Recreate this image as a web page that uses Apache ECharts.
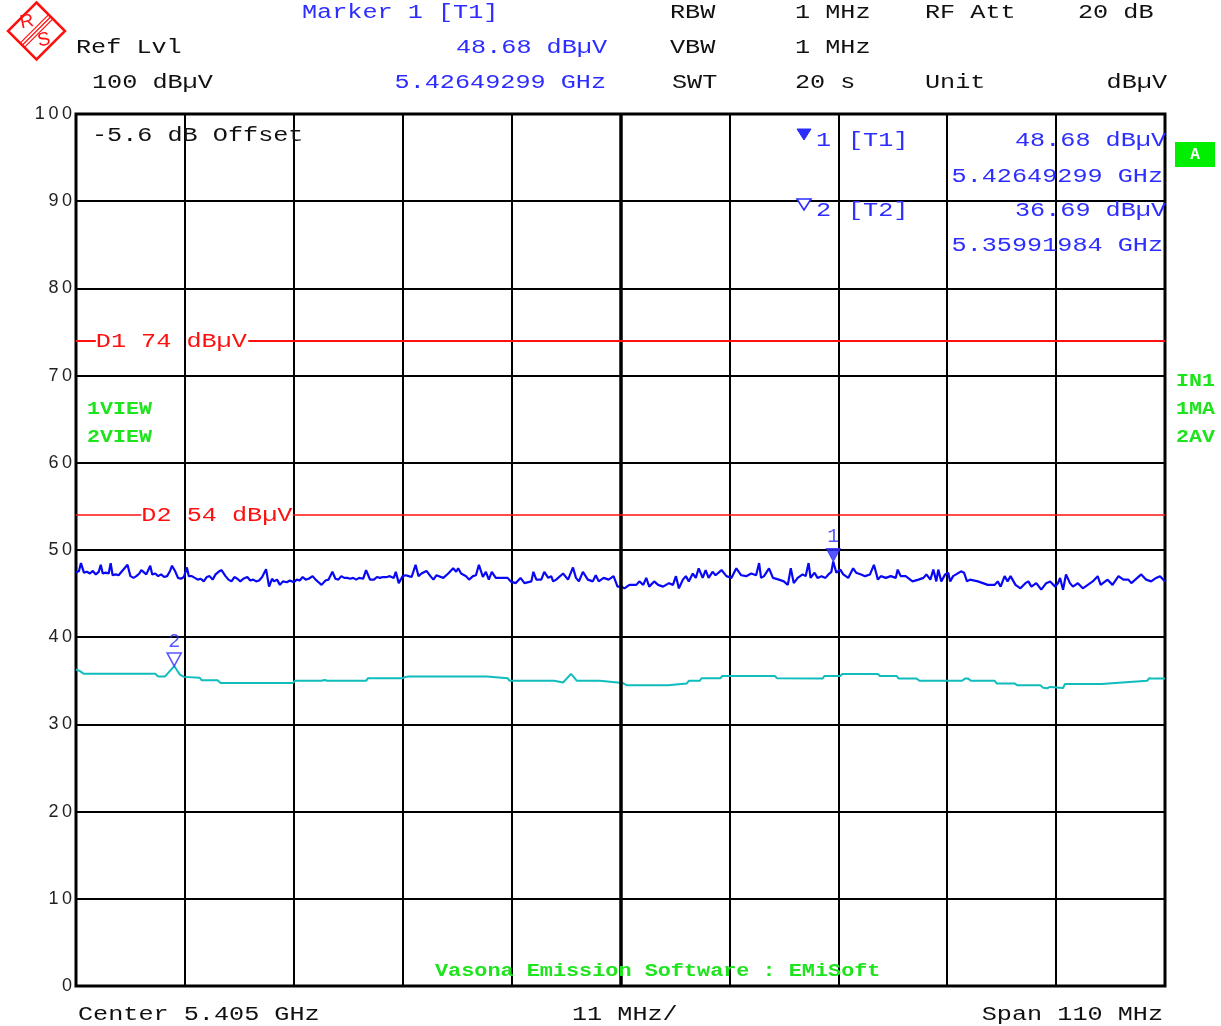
<!DOCTYPE html>
<html>
<head>
<meta charset="utf-8">
<title>Spectrum 5.350 – 5.460 GHz</title>
<script src="https://cdn.jsdelivr.net/npm/echarts@6/dist/echarts.min.js"></script>
<style>
  html, body { margin: 0; padding: 0; background: #ffffff; }
  #chart { width: 1221px; height: 1026px; }
</style>
</head>
<body>
<div id="chart"></div>
<script>
// Sweep settings (MHz / dBµV)
const START_MHZ = 5350;
const SPAN_MHZ = 110;
const DIV_MHZ = 11;
const REF_LEVEL = 100;
const LEVEL_STEP = 10;
const LEVEL_OFFSET_DB = -5.6;

// Trace 1 (max peak): frequency in MHz above START_MHZ, level in dBµV
const maxPeakFreq = [
  0, 0.3, 0.5, 0.8, 1.1, 1.4, 1.7, 2.0, 2.3, 2.5,
  2.7, 3.0, 3.3, 3.5, 3.7, 4.0, 4.3, 4.6, 4.8, 5.2,
  5.5, 5.8, 6.1, 6.4, 6.6, 6.8, 7.1, 7.5, 7.7, 8.0,
  8.3, 8.6, 8.9, 9.2, 9.5, 9.7, 10.0, 10.3, 10.6, 10.9,
  11.2, 11.4, 11.7, 12.0, 12.3, 12.6, 12.9, 13.2, 13.5, 13.8,
  14.1, 14.4, 14.7, 15.1, 15.4, 15.7, 16.0, 16.3, 16.6, 16.9,
  17.3, 17.6, 17.9, 18.2, 18.5, 18.8, 19.2, 19.5, 19.8, 20.0,
  20.3, 20.6, 20.9, 21.3, 21.6, 22.0, 22.3, 22.6, 22.9, 23.2,
  23.5, 23.9, 24.2, 24.5, 24.8, 25.2, 25.5, 25.9, 26.2, 26.5,
  26.8, 27.1, 27.4, 27.7, 28.0, 28.3, 28.6, 29.0, 29.3, 29.7,
  30.1, 30.4, 30.7, 31.0, 31.4, 31.7, 32.1, 32.3, 32.6, 33.0,
  33.3, 33.6, 33.9, 34.3, 34.6, 34.9, 35.4, 35.8, 36.1, 36.4,
  37.1, 37.6, 38.1, 38.4, 38.6, 38.9, 39.4, 39.7, 40.1, 40.4,
  40.7, 41.1, 41.4, 41.7, 42.0, 42.4, 43.1, 43.6, 43.9, 44.4,
  44.9, 45.3, 46.0, 46.2, 46.5, 47.0, 47.3, 47.7, 48.0, 48.2,
  48.5, 49.2, 49.7, 50.2, 50.5, 50.8, 51.2, 51.7, 52.2, 52.5,
  52.8, 53.3, 53.8, 54.3, 54.7, 55.1, 55.4, 55.9, 56.6, 56.9,
  57.3, 57.6, 57.9, 58.4, 58.8, 59.3, 59.9, 60.3, 60.6, 60.9,
  61.3, 61.6, 61.9, 62.3, 62.6, 62.9, 63.3, 63.6, 63.9, 64.3,
  64.6, 65.2, 65.7, 66.2, 66.7, 67.2, 67.7, 68.2, 68.7, 69.0,
  69.2, 69.5, 70.0, 70.4, 71.0, 71.5, 71.9, 72.2, 72.5, 72.9,
  73.4, 73.7, 74.0, 74.2, 74.6, 74.9, 75.3, 75.7, 76.0, 76.3,
  76.49, 76.8, 77.2, 77.5, 78.0, 78.5, 78.8, 79.3, 79.7, 80.2,
  80.6, 81.0, 81.3, 81.8, 82.3, 82.8, 83.0, 83.3, 83.8, 84.5,
  85.1, 85.6, 85.9, 86.3, 86.6, 86.9, 87.1, 87.4, 87.8, 88.1,
  88.3, 88.6, 88.9, 89.4, 89.7, 90.0, 90.3, 91.1, 91.6, 92.1,
  92.8, 93.1, 93.4, 93.8, 94.1, 94.4, 94.9, 95.4, 95.9, 96.2,
  96.5, 97.0, 97.5, 98.0, 98.4, 98.9, 99.2, 99.4, 99.7, 100.0,
  100.4, 100.7, 101.2, 101.7, 102.2, 102.7, 103.2, 103.5, 104.2, 104.7,
  105.3, 105.8, 106.3, 106.6, 107.0, 107.6, 108.1, 108.6, 109.1, 109.5, 110
];
const maxPeakLevel = [
  47.4, 47.6, 48.5, 47.4, 47.5, 47.3, 47.6, 47.2, 47.5, 48.3,
  47.3, 47.4, 47.3, 48.5, 47.1, 47.2, 47.1, 47.5, 47.7, 48.3,
  47.0, 46.8, 47.0, 47.3, 47.7, 47.5, 47.2, 48.2, 47.2, 47.3,
  47.0, 47.2, 46.9, 47.0, 47.6, 48.2, 47.6, 46.8, 46.7, 46.9,
  48.0, 47.0, 47.0, 46.8, 46.6, 46.7, 46.4, 46.9, 47.0, 46.6,
  47.2, 47.5, 47.7, 47.0, 46.6, 46.4, 46.9, 46.7, 46.4, 46.7,
  46.9, 46.5, 46.6, 46.4, 46.5, 46.9, 47.8, 45.8, 46.7, 46.4,
  46.6, 46.0, 46.4, 46.3, 46.5, 46.3, 46.6, 46.5, 46.9, 46.6,
  46.7, 47.0, 46.6, 46.3, 46.0, 46.5, 46.6, 47.5, 46.7, 46.6,
  47.0, 46.8, 46.8, 46.7, 46.8, 46.6, 46.8, 46.7, 47.7, 46.6,
  46.6, 46.9, 46.8, 46.9, 46.9, 47.0, 46.8, 47.5, 46.2, 47.0,
  47.1, 47.0, 46.9, 48.3, 47.0, 47.3, 47.6, 47.0, 46.6, 47.1,
  46.8, 47.3, 47.9, 47.5, 47.9, 47.3, 47.0, 46.6, 47.0, 47.1,
  48.3, 46.9, 47.5, 46.6, 47.5, 46.8, 46.8, 46.8, 46.4, 46.2,
  46.8, 46.2, 46.4, 47.5, 46.6, 46.6, 47.5, 46.8, 47.0, 46.4,
  46.6, 47.3, 46.6, 48.0, 46.8, 46.4, 47.5, 46.6, 46.4, 47.1,
  46.4, 46.8, 46.6, 47.0, 45.8, 45.8, 45.6, 46.0, 46.0, 46.4,
  46.0, 46.8, 45.8, 46.4, 46.0, 45.8, 46.2, 46.0, 47.0, 45.6,
  46.6, 47.0, 46.4, 47.3, 46.8, 47.9, 46.8, 47.7, 46.8, 47.5,
  47.1, 47.7, 47.0, 46.8, 47.9, 47.1, 47.0, 47.3, 47.1, 48.5,
  46.8, 47.0, 47.9, 46.8, 46.6, 46.4, 46.0, 47.9, 46.2, 46.8,
  47.2, 47.0, 48.5, 46.8, 47.4, 46.8, 47.0, 46.8, 47.2, 47.5,
  48.68, 47.4, 47.75, 47.2, 46.8, 47.9, 47.4, 47.2, 47.0, 47.2,
  48.3, 46.6, 47.0, 46.8, 47.0, 46.8, 47.75, 47.0, 47.0, 46.4,
  46.6, 46.8, 47.2, 46.6, 47.75, 46.4, 47.75, 46.4, 47.2, 47.4,
  46.4, 47.0, 47.2, 47.55, 47.4, 46.4, 46.6, 46.4, 46.2, 46.0,
  46.0, 46.4, 45.8, 47.0, 46.4, 47.0, 46.0, 45.6, 46.2, 46.4,
  45.8, 46.2, 45.45, 46.2, 46.4, 45.8, 46.2, 46.8, 45.45, 47.2,
  46.2, 45.8, 46.2, 45.6, 46.0, 46.4, 47.0, 46.0, 46.6, 46.0,
  47.0, 46.6, 46.6, 46.2, 46.6, 47.2, 46.6, 46.4, 46.8, 47.0, 46.4
];

// Trace 2 (average): frequency in MHz above START_MHZ, level in dBµV
const averageFreq = [
  0, 0.4, 0.8, 8.0, 8.3, 9.0, 9.92, 10.5, 10.9, 11.1,
  12.5, 12.7, 14.3, 14.6, 21.9, 22.1, 24.8, 25.1, 25.4, 29.3,
  29.5, 33.0, 33.3, 33.6, 41.5, 41.7, 43.6, 43.8, 48.3, 48.5,
  49.2, 50.0, 50.6, 52.9, 53.1, 55.2, 55.6, 55.8, 56.0, 59.8,
  60.0, 61.7, 61.9, 63.0, 63.2, 65.1, 65.3, 70.6, 70.8, 75.4,
  75.6, 77.2, 77.4, 81.0, 81.2, 82.9, 83.1, 84.9, 85.2, 89.5,
  89.8, 90.1, 90.4, 92.8, 93.0, 94.8, 95.1, 97.4, 97.7, 97.9,
  98.1, 98.4, 98.6, 99.7, 99.9, 103.6, 103.8, 105.7, 105.9, 108.2,
  108.4, 108.6, 108.8, 110
];
const averageLevel = [
  36.3, 36.1, 35.8, 35.8, 35.5, 35.5, 36.69, 35.7, 35.45, 35.35,
  35.35, 35.05, 35.05, 34.75, 34.75, 35.0, 35.0, 35.1, 35.0, 35.0,
  35.3, 35.3, 35.45, 35.5, 35.5, 35.3, 35.3, 35.0, 35.0, 34.8,
  34.8, 35.8, 35.0, 35.0, 34.8, 34.75, 34.5, 34.65, 34.48, 34.48,
  34.7, 34.7, 35.0, 35.0, 35.3, 35.3, 35.55, 35.55, 35.3, 35.25,
  35.55, 35.55, 35.78, 35.78, 35.55, 35.55, 35.25, 35.25, 35.0, 35.0,
  35.25, 35.25, 35.0, 35.0, 34.7, 34.7, 34.48, 34.48, 34.2, 34.35,
  34.15, 34.3, 34.17, 34.17, 34.63, 34.63, 34.8, 34.8, 35.0, 35.0,
  35.3, 35.1, 35.25, 35.25
];

// Markers
const markerNames = ['1', '2'];
const markerTraces = ['T1', 'T2'];
const markerFreqGHz = [5.42649299, 5.35991984];
const markerLevel = [48.68, 36.69];

// Display lines and the stretch (MHz above start) left open for each label
const displayLineNames = ['D1', 'D2'];
const displayLineLevel = [74, 54];
const displayLineGap = [[2.0, 17.4], [6.6, 21.9]];

// Instrument settings shown in the header
const rbwText = '1 MHz';
const vbwText = '1 MHz';
const sweepText = '20 s';
const attText = '20 dB';
const unitText = 'dBµV';

const BLUE = '#0808f4';
const MARK_BLUE = '#2d2dff';
const CYAN = '#10bcbc';
const RED = '#ff1010';
const GREEN = '#1ee41e';
const INK = '#111111';
const MONO = "'Liberation Mono', 'DejaVu Sans Mono', monospace";
const TY = 1; // baseline nudge for stretched monospace text

const chart = echarts.init(document.getElementById('chart'), null, { renderer: 'canvas' });

const maxPeak = maxPeakFreq.map((f, i) => [f, maxPeakLevel[i]]);
const average = averageFreq.map((f, i) => [f, averageLevel[i]]);
const markerPoints = markerFreqGHz.map((g, i) => ({
  value: [g * 1000 - START_MHZ, markerLevel[i]],
  name: markerNames[i],
  itemStyle: i === 0
    ? { color: MARK_BLUE, borderColor: MARK_BLUE, borderWidth: 1 }
    : { color: '#ffffff', borderColor: MARK_BLUE, borderWidth: 1.6 }
}));

const displaySegments = [];
displayLineLevel.forEach((lv, i) => {
  const w = i === 0 ? 2 : 1.5;
  displaySegments.push([
    { coord: [0, lv], lineStyle: { color: RED, width: w, type: 'solid' } },
    { coord: [displayLineGap[i][0], lv] }
  ]);
  displaySegments.push([
    { coord: [displayLineGap[i][1], lv], lineStyle: { color: RED, width: w, type: 'solid' } },
    { coord: [SPAN_MHZ, lv] }
  ]);
});

chart.setOption({
  animation: false,
  backgroundColor: '#ffffff',
  grid: {
    left: 76, top: 114, width: 1089, height: 872,
    show: true, borderColor: '#000000', borderWidth: 3, backgroundColor: 'transparent'
  },
  xAxis: {
    type: 'value', min: 0, max: SPAN_MHZ, interval: DIV_MHZ,
    axisLine: { show: false }, axisTick: { show: false }, axisLabel: { show: false },
    splitLine: { show: true, lineStyle: { color: '#000000', width: 2 } }
  },
  yAxis: {
    type: 'value', min: 0, max: REF_LEVEL, interval: LEVEL_STEP,
    axisLine: { show: false }, axisTick: { show: false },
    axisLabel: {
      color: '#222222', fontFamily: "'Liberation Sans', Arial, sans-serif", fontSize: 18, margin: 4,
      formatter: v => String(v).split('').join('\u2009')
    },
    splitLine: { show: true, lineStyle: { color: '#000000', width: 2 } }
  },
  series: [
    {
      name: '2AV', type: 'line', data: average, showSymbol: false, silent: true,
      lineStyle: { color: CYAN, width: 2 }, z: 3,
      markLine: {
        silent: true, symbol: ['none', 'none'], label: { show: false },
        data: [{ xAxis: SPAN_MHZ / 2, lineStyle: { color: '#000000', width: 3.5, type: 'solid' } }]
      }
    },
    {
      name: '1MA', type: 'line', data: maxPeak, showSymbol: false, silent: true,
      lineStyle: { color: BLUE, width: 2.2 }, z: 4,
      markLine: {
        silent: true, symbol: ['none', 'none'], label: { show: false },
        data: displaySegments
      }
    },
    {
      name: 'markers', type: 'scatter', data: markerPoints, silent: true, z: 6,
      symbol: 'path://M0,0L20,0L10,18Z', symbolSize: [14, 13], symbolOffset: [0, -6.5],
      label: {
        show: true, position: 'top', distance: 1,
        formatter: p => p.name, color: MARK_BLUE,
        fontFamily: MONO, fontSize: 20
      }
    }
  ]
});

// Text helper: monospace text stretched to the instrument's character pitch
function txt(text, x, y, color, opt) {
  opt = opt || {};
  const size = opt.size || 20;
  const pitch = opt.pitch || 15.1;
  return {
    type: 'text', x: x, y: y + TY, scaleX: pitch / (size * 0.6), z: 50, silent: true,
    style: {
      text: text, fill: color,
      font: (opt.bold ? 'bold ' : '') + size + 'px ' + MONO,
      textAlign: opt.align || 'left', textVerticalAlign: 'middle'
    }
  };
}

const centerGHz = (START_MHZ + SPAN_MHZ / 2) / 1000;
const els = [];

// R&S logo
const lc = [36.5, 31], hd = 28.5;
els.push({
  type: 'polygon', silent: true, z: 50,
  shape: { points: [[lc[0], lc[1] - hd], [lc[0] + hd, lc[1]], [lc[0], lc[1] + hd], [lc[0] - hd, lc[1]]] },
  style: { fill: 'none', stroke: RED, lineWidth: 2.5 }
});
[-3, 0, 3].forEach(d => {
  const o = d * 0.7071;
  els.push({
    type: 'line', silent: true, z: 50,
    shape: { x1: lc[0] - hd / 2 + o, y1: lc[1] + hd / 2 + o, x2: lc[0] + hd / 2 + o, y2: lc[1] - hd / 2 + o },
    style: { stroke: RED, lineWidth: 1.3 }
  });
});
els.push({ type: 'text', x: 27, y: 22, z: 50, silent: true, rotation: 0.2,
  style: { text: 'R', fill: RED, font: "19px 'Liberation Sans', sans-serif", textAlign: 'center', textVerticalAlign: 'middle' } });
els.push({ type: 'text', x: 44, y: 40, z: 50, silent: true, rotation: 0.2,
  style: { text: 'S', fill: RED, font: "19px 'Liberation Sans', sans-serif", textAlign: 'center', textVerticalAlign: 'middle' } });

// Header
els.push(txt('Marker ' + markerNames[0] + ' [' + markerTraces[0] + ']', 302, 12, MARK_BLUE));
els.push(txt('RBW', 670, 12, INK));
els.push(txt(rbwText, 795, 12, INK));
els.push(txt('RF Att', 925, 12, INK));
els.push(txt(attText, 1078, 12, INK));
els.push(txt('Ref Lvl', 76, 47, INK));
els.push(txt(markerLevel[0].toFixed(2) + ' ' + unitText, 607, 47, MARK_BLUE, { align: 'right' }));
els.push(txt('VBW', 670, 47, INK));
els.push(txt(vbwText, 795, 47, INK));
els.push(txt(REF_LEVEL + ' ' + unitText, 92, 82, INK));
els.push(txt(markerFreqGHz[0].toFixed(8) + ' GHz', 606, 82, MARK_BLUE, { align: 'right' }));
els.push(txt('SWT', 672, 82, INK));
els.push(txt(sweepText, 795, 82, INK));
els.push(txt('Unit', 925, 82, INK));
els.push(txt(unitText, 1167, 82, INK, { align: 'right' }));

// Offset note
els.push(txt(LEVEL_OFFSET_DB.toFixed(1) + ' dB Offset', 92, 135, INK));

// Marker table
const rowY = [[140, 176], [210, 245]];
markerNames.forEach((m, i) => {
  const y0 = rowY[i][0];
  els.push({
    type: 'polygon', silent: true, z: 50,
    shape: { points: [[797, y0 - 11], [811, y0 - 11], [804, y0]] },
    style: i === 0 ? { fill: MARK_BLUE, stroke: MARK_BLUE, lineWidth: 1 }
                   : { fill: '#ffffff', stroke: MARK_BLUE, lineWidth: 1.6 }
  });
  els.push(txt(m, 816, y0, MARK_BLUE));
  els.push(txt('[' + markerTraces[i] + ']', 848, y0, MARK_BLUE));
  els.push(txt(markerLevel[i].toFixed(2) + ' ' + unitText, 1166, y0, MARK_BLUE, { align: 'right' }));
  els.push(txt(markerFreqGHz[i].toFixed(8) + ' GHz', 1163, rowY[i][1], MARK_BLUE, { align: 'right' }));
});

// Display line labels, placed in the gap of each line
displayLineLevel.forEach((lv, i) => {
  const p = chart.convertToPixel({ gridIndex: 0 }, [displayLineGap[i][0], lv]);
  els.push(txt(displayLineNames[i] + ' ' + lv + ' ' + unitText, p[0], p[1], RED));
});

// Trace status (green)
els.push(txt('1VIEW', 87, 408, GREEN, { bold: true, size: 18, pitch: 13 }));
els.push(txt('2VIEW', 87, 436, GREEN, { bold: true, size: 18, pitch: 13 }));
els.push(txt('IN1', 1176, 380, GREEN, { bold: true, size: 18, pitch: 13 }));
els.push(txt('1MA', 1176, 408, GREEN, { bold: true, size: 18, pitch: 13 }));
els.push(txt('2AV', 1176, 436, GREEN, { bold: true, size: 18, pitch: 13 }));
els.push({ type: 'rect', silent: true, z: 50, shape: { x: 1175, y: 142, width: 40, height: 25 }, style: { fill: '#00ee00' } });
els.push({ type: 'text', x: 1195, y: 155, z: 51, silent: true,
  style: { text: 'A', fill: '#ffffff', font: 'bold 16px ' + MONO, textAlign: 'center', textVerticalAlign: 'middle' } });

els.push(txt('Vasona Emission Software : EMiSoft', 435, 970, GREEN, { bold: true, size: 18, pitch: 13.1 }));

// Footer
els.push(txt('Center ' + centerGHz.toFixed(3) + ' GHz', 78, 1014, INK));
els.push(txt(DIV_MHZ + ' MHz/', 572, 1014, INK));
els.push(txt('Span ' + SPAN_MHZ + ' MHz', 1163, 1014, INK, { align: 'right' }));

chart.setOption({ graphic: { elements: els } });
</script>
</body>
</html>
